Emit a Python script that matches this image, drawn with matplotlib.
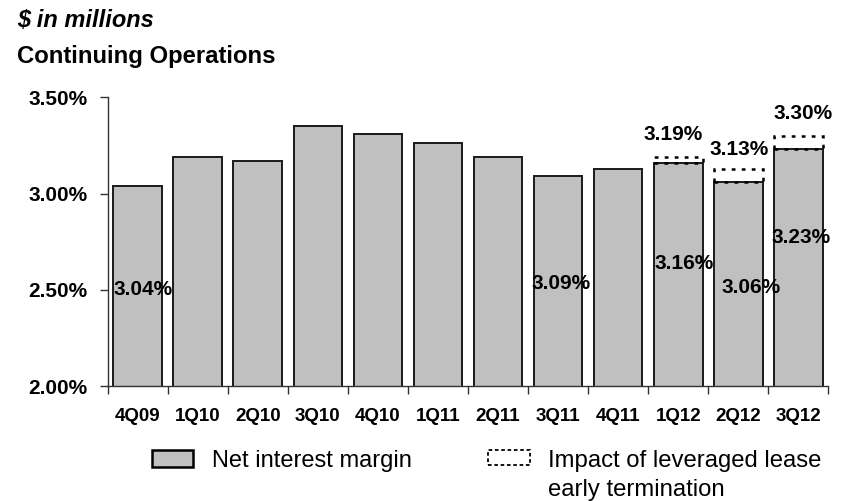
import matplotlib
matplotlib.use("Agg")
import matplotlib.pyplot as plt
from matplotlib.patches import Rectangle

plt.rcParams['font.family'] = ['Liberation Sans', 'DejaVu Sans']

# ---- data ----
quarters = ["4Q09", "1Q10", "2Q10", "3Q10", "4Q10", "1Q11", "2Q11",
            "3Q11", "4Q11", "1Q12", "2Q12", "3Q12"]
nim = [3.04, 3.19, 3.17, 3.35, 3.31, 3.26, 3.19, 3.09, 3.13, 3.16, 3.06, 3.23]
lease_impact = [0, 0, 0, 0, 0, 0, 0, 0, 0, 0.03, 0.07, 0.07]
yticks = [2.00, 2.50, 3.00, 3.50]

# labelled values (inside bars) and totals (above dotted boxes)
inner_labels = {0: "3.04%", 7: "3.09%", 9: "3.16%", 10: "3.06%", 11: "3.23%"}
total_labels = {9: "3.19%", 10: "3.13%", 11: "3.30%"}

# label placement (layout only): (x, baseline y) in data coords
inner_pos = {0: (0.10, 2.474), 7: (7.05, 2.504), 9: (9.10, 2.608),
             10: (10.21, 2.481), 11: (11.04, 2.743)}
total_pos = {9: (8.91, 3.280), 10: (10.01, 3.2015), 11: (11.07, 3.385)}

fig = plt.figure(figsize=(8.45, 5.01), dpi=100)
ax = fig.add_axes([107.5/845, 1-386/501, (828.5-107.5)/845, (386-97.3)/501])

x = list(range(len(quarters)))
bw = 0.806
ax.bar(x, nim, width=bw, bottom=0, color="#C0C0C0", edgecolor="#1a1a1a",
       linewidth=1.4, zorder=2)
for i, (n, d) in enumerate(zip(nim, lease_impact)):
    if d > 0:
        ax.bar(i, d, width=bw, bottom=n, facecolor="none", edgecolor="black",
               linewidth=1.8, linestyle=(0, (1.5, 2.5)), zorder=3)

for i, t in inner_labels.items():
    px, py = inner_pos[i]
    ax.text(px, py, t, ha="center", va="baseline", fontsize=15,
            fontweight="bold", zorder=5)
for i, t in total_labels.items():
    px, py = total_pos[i]
    ax.text(px, py, t, ha="center", va="baseline", fontsize=15,
            fontweight="bold", zorder=5)

ax.set_xlim(-0.5, len(quarters) - 0.5)
ax.set_ylim(2.0, 3.5)
ax.set_yticks(yticks)
ax.set_yticklabels([f"{v:.2f}%" for v in yticks], fontsize=15,
                   fontweight="bold")
ax.set_xticks(x)
ax.set_xticklabels(quarters, fontsize=13.5, fontweight="bold")
ax.set_xticks([i - 0.5 for i in range(len(quarters) + 1)], minor=True)
ax.tick_params(axis="x", which="major", length=0, pad=16)
ax.tick_params(axis="x", which="minor", length=6, width=1, color="#333333",
               direction="out")
ax.tick_params(axis="y", length=6, width=1, color="#333333", direction="out",
               pad=8.5)
for s in ["top", "right"]:
    ax.spines[s].set_visible(False)
for s in ["left", "bottom"]:
    ax.spines[s].set_color("#333333")
    ax.spines[s].set_linewidth(1.0)

# titles
fig.text(17/845, 1-26.7/501, "$ in millions", fontsize=17, fontweight="bold",
         fontstyle="italic", va="baseline", ha="left")
fig.text(17/845, 1-62.7/501, "Continuing Operations", fontsize=17.2,
         fontweight="bold", va="baseline", ha="left")

# legend (manual)
fig.add_artist(Rectangle((152.3/845, 1-466.7/501), 41/845, 16.7/501,
                         transform=fig.transFigure, facecolor="#C0C0C0",
                         edgecolor="black", linewidth=1.8))
fig.text(211.7/845, 1-466.7/501, "Net interest margin", fontsize=17,
         va="baseline", ha="left")
fig.add_artist(Rectangle((488.3/845, 1-465/501), 41.7/845, 15/501,
                         transform=fig.transFigure, facecolor="none",
                         edgecolor="black", linewidth=1.3,
                         linestyle=(0, (2, 1.5))))
fig.text(548.3/845, 1-466.5/501, "Impact of leveraged lease", fontsize=17.2,
         va="baseline", ha="left")
fig.text(548.3/845, 1-496/501, "early termination", fontsize=17.2,
         va="baseline", ha="left")

fig.savefig("out.png", dpi=100)
